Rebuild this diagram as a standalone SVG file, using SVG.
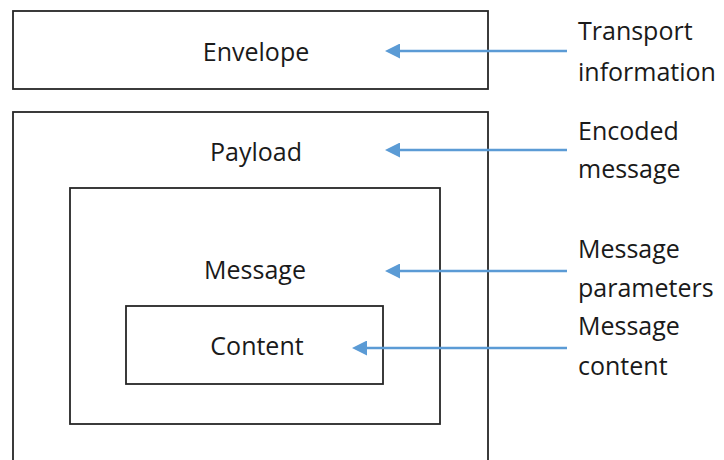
<svg xmlns="http://www.w3.org/2000/svg" width="724" height="460" viewBox="0 0 724 460">
  <style>
    .box { fill: none; stroke: #262626; stroke-width: 1.8; }
    .lbl { font-family: "Open Sans", "Noto Sans", sans-serif; font-size: 25px; fill: #1a1a1a; }
    .mid { text-anchor: middle; }
    .conn { stroke: #5b9bd5; stroke-width: 2.5; fill: none; marker-end: url(#ah); }
  </style>
  <defs>
    <marker id="ah" markerUnits="userSpaceOnUse" markerWidth="15" markerHeight="15" viewBox="0 0 15 15" refX="5" refY="7.5" orient="auto">
      <path d="M0,0 L15,7.5 L0,15 z" fill="#5b9bd5"/>
    </marker>
  </defs>
  <rect width="724" height="460" fill="#ffffff"/>
  <g id="envelope">
    <rect class="box" x="13" y="11" width="475" height="78"/>
    <text class="lbl mid" x="256" y="61">Envelope</text>
  </g>
  <g id="payload">
    <rect class="box" x="13" y="112" width="475" height="360"/>
    <text class="lbl mid" x="256" y="161">Payload</text>
  </g>
  <g id="message">
    <rect class="box" x="70" y="188" width="370" height="236"/>
    <text class="lbl mid" x="255" y="279">Message</text>
  </g>
  <g id="content">
    <rect class="box" x="126" y="306" width="257" height="78"/>
    <text class="lbl mid" x="257" y="355">Content</text>
  </g>
  <g id="notes">
    <text class="lbl" x="578" y="40">Transport</text>
    <text class="lbl" x="578" y="81">information</text>
    <text class="lbl" x="578" y="140">Encoded</text>
    <text class="lbl" x="578" y="178">message</text>
    <text class="lbl" x="578" y="258">Message</text>
    <text class="lbl" x="578" y="297">parameters</text>
    <text class="lbl" x="578" y="335">Message</text>
    <text class="lbl" x="578" y="375">content</text>
  </g>
  <g id="connectors">
    <line class="conn" x1="567" y1="51" x2="395" y2="51"/>
    <line class="conn" x1="567" y1="150" x2="395" y2="150"/>
    <line class="conn" x1="567" y1="271" x2="395" y2="271"/>
    <line class="conn" x1="567" y1="348" x2="362" y2="348"/>
  </g>
</svg>
